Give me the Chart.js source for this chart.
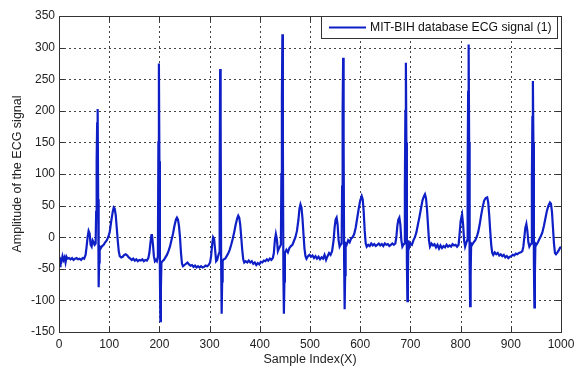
<!DOCTYPE html>
<html>
<head>
<meta charset="utf-8">
<script src="https://cdn.jsdelivr.net/npm/chart.js@4/dist/chart.umd.min.js"></script>
<style>
  html, body { margin: 0; padding: 0; background: #fff; }
  #wrap { width: 575px; height: 370px; }
</style>
</head>
<body>
<div id="wrap"><canvas id="ecgChart" width="575" height="370"></canvas></div>
<script>
// values (sample index -> amplitude)
const sampleIndex = [
  0, 2, 3, 5, 7, 9, 11, 13, 15, 17, 20, 23, 26, 29, 32, 35, 38, 41, 44, 47, 50, 53, 55, 57, 59, 61, 63, 65, 67, 69, 71, 73,
  74, 75, 76, 77, 78, 79, 80, 81, 83, 86, 89, 92, 95, 98, 101, 104, 107, 109, 111, 113, 115, 117, 119, 121, 124, 127, 130,
  133, 136, 139, 142, 145, 148, 151, 154, 157, 160, 163, 166, 169, 172, 175, 178, 180, 182, 184, 185, 187, 189, 191, 193,
  195, 197, 198, 199, 200, 201, 202, 203, 204, 206, 209, 212, 215, 218, 221, 224, 227, 230, 233, 235, 237, 239, 241, 243,
  245, 247, 250, 253, 256, 259, 262, 265, 268, 271, 274, 277, 280, 283, 286, 289, 292, 295, 298, 301, 303, 305, 307, 309,
  311, 313, 315, 317, 319, 320, 321, 322, 323, 324, 325, 326, 328, 331, 334, 337, 340, 343, 346, 349, 352, 355, 357, 359,
  361, 363, 365, 367, 369, 372, 375, 378, 381, 384, 387, 390, 393, 396, 399, 402, 405, 408, 411, 414, 417, 420, 423, 426,
  428, 430, 432, 434, 436, 438, 440, 442, 443, 444, 445, 446, 447, 448, 449, 450, 453, 456, 459, 462, 465, 468, 471, 474,
  477, 479, 481, 483, 485, 487, 489, 491, 493, 496, 499, 502, 505, 508, 511, 514, 517, 520, 523, 526, 529, 532, 535, 538,
  541, 544, 547, 549, 551, 553, 555, 557, 559, 561, 563, 564, 565, 566, 567, 568, 569, 570, 571, 573, 576, 579, 582, 585,
  588, 591, 594, 597, 600, 603, 605, 607, 609, 611, 613, 616, 619, 622, 625, 628, 631, 634, 637, 640, 643, 646, 649, 652,
  655, 658, 661, 664, 667, 670, 672, 674, 676, 678, 680, 682, 684, 686, 688, 689, 690, 691, 692, 693, 694, 695, 696, 698,
  700, 703, 706, 709, 712, 715, 718, 721, 724, 727, 729, 731, 733, 735, 737, 739, 742, 745, 748, 751, 754, 757, 760, 763,
  766, 769, 772, 775, 778, 781, 784, 787, 790, 793, 796, 798, 800, 802, 803, 805, 807, 809, 811, 813, 814, 815, 816, 817,
  818, 819, 820, 821, 823, 826, 829, 832, 835, 838, 841, 844, 847, 850, 853, 855, 857, 859, 861, 863, 865, 868, 871, 874,
  877, 880, 883, 886, 889, 892, 895, 898, 901, 904, 907, 910, 913, 916, 920, 923, 925, 927, 929, 931, 933, 935, 937, 939,
  941, 942, 943, 944, 945, 946, 947, 948, 949, 951, 954, 957, 960, 963, 966, 969, 972, 975, 978, 980, 982, 984, 986, 988,
  990, 993, 996, 998, 1000
];
const ecgAmplitude = [
  -40, -46, -35, -38, -30, -36, -32, -40, -31, -34, -33, -35, -33, -36, -34, -33, -35, -34, -36, -33, -34, -28, -15, 0, 10, 6, -12, -15, -5, -8, -12, -10,
  40, 120, 180, 203, 60, -79, -40, -15, -18, -14, -12, -8, -5, 0, 8, 25, 40, 47, 45, 35, 15, -5, -22, -30, -32, -31, -28,
  -27, -29, -32, -34, -36, -34, -37, -35, -38, -36, -37, -35, -38, -36, -37, -33, -25, -10, 3, 5, -10, -30, -38, -36,
  -38, -30, 150, 275, 120, -60, -133, -80, -40, -38, -36, -32, -28, -22, -15, -5, 5, 18, 28, 31, 28, 18, 0, -25,
  -42, -46, -44, -42, -40, -43, -45, -44, -47, -45, -48, -46, -48, -46, -48, -47, -45, -46, -44, -40, -30, -12, 0, -3,
  -20, -38, -36, -30, -25, 90, 266, 180, -40, -121, -70, -38, -35, -34, -30, -26, -20, -12, -3, 8, 20, 30, 34, 31,
  20, 0, -20, -35, -40, -38, -40, -37, -40, -38, -42, -40, -44, -41, -43, -39, -40, -37, -38, -35, -37, -34, -36, -33,
  -25, -5, 5, -3, -22, -18, -15, -12, 100, 220, 321, 150, -60, -121, -70, -25, -20, -24, -17, -14, -12, -6, 0, 10,
  28, 45, 52, 47, 30, 5, -18, -30, -34, -30, -28, -31, -29, -33, -30, -34, -31, -35, -32, -34, -28, -36, -30, -25,
  -28, -22, -5, 15, 28, 31, 20, -5, -15, -12, -10, 80, 200, 284, 150, -40, -114, -60, -10, -12, -5, -8, -2, 0,
  5, 15, 30, 45, 58, 65, 60, 40, 10, -10, -15, -12, -14, -10, -13, -11, -14, -12, -10, -13, -11, -14, -10, -12,
  -11, -14, -12, -10, -12, -10, 0, 18, 28, 31, 20, -5, -15, -12, -10, 80, 200, 276, 150, -40, -101, -60, -5, -15,
  -10, -12, -5, 0, 8, 20, 32, 45, 58, 65, 68, 62, 45, 20, -5, -15, -10, -13, -11, -16, -12, -18, -13, -17,
  -14, -16, -12, -15, -13, -15, -11, -13, -12, -15, -12, 5, 25, 33, 36, 20, -5, -15, -10, -5, 100, 230, 305, 150,
  -40, -109, -60, -10, -12, -8, -5, 0, 8, 20, 35, 48, 58, 62, 63, 55, 35, 10, -12, -25, -28, -24, -27, -25,
  -29, -27, -30, -28, -32, -30, -33, -31, -30, -28, -29, -26, -27, -25, -24, -22, -15, 0, 15, 21, 10, -8, -15, -12,
  -10, 90, 190, 247, 150, -40, -111, -60, -10, -12, -8, -3, 2, 8, 18, 30, 42, 50, 55, 53, 40, 15, -10, -25,
  -27, -24, -20, -17, -15
];
const seriesLabel = 'MIT-BIH database ECG signal (1)';
const xTicks = [0, 100, 200, 300, 400, 500, 600, 700, 800, 900, 1000];
const yTicks = [-150, -100, -50, 0, 50, 100, 150, 200, 250, 300, 350];

const lineColor = '#0f1fc6';
const fontFamily = '"Liberation Sans", Arial, sans-serif';

const points = sampleIndex.map((x, i) => ({ x: x, y: ecgAmplitude[i] }));

// dotted grid under the trace
const dottedGrid = {
  id: 'dottedGrid',
  beforeDatasetsDraw(chart) {
    const { ctx, chartArea: a, scales } = chart;
    ctx.save();
    ctx.strokeStyle = '#444';
    ctx.lineWidth = 1;
    ctx.setLineDash([2, 3]);
    ctx.beginPath();
    xTicks.forEach(v => {
      const px = Math.round(scales.x.getPixelForValue(v)) + 0.5;
      ctx.moveTo(px, a.top); ctx.lineTo(px, a.bottom);
    });
    yTicks.forEach(v => {
      const py = Math.round(scales.y.getPixelForValue(v)) + 0.5;
      ctx.moveTo(a.left, py); ctx.lineTo(a.right, py);
    });
    ctx.stroke();
    ctx.restore();
  }
};

// matlab-like frame, inward ticks and boxed legend
const matlabFrame = {
  id: 'matlabFrame',
  afterDraw(chart) {
    const { ctx, chartArea: a, scales } = chart;
    ctx.save();
    ctx.strokeStyle = '#333';
    ctx.lineWidth = 1;
    ctx.strokeRect(Math.round(a.left) + 0.5, Math.round(a.top) + 0.5,
      Math.round(a.right - a.left), Math.round(a.bottom - a.top));
    ctx.beginPath();
    xTicks.forEach(v => {
      const px = Math.round(scales.x.getPixelForValue(v)) + 0.5;
      ctx.moveTo(px, a.bottom); ctx.lineTo(px, a.bottom - 5);
      ctx.moveTo(px, a.top); ctx.lineTo(px, a.top + 5);
    });
    yTicks.forEach(v => {
      const py = Math.round(scales.y.getPixelForValue(v)) + 0.5;
      ctx.moveTo(a.left, py); ctx.lineTo(a.left + 5, py);
      ctx.moveTo(a.right, py); ctx.lineTo(a.right - 5, py);
    });
    ctx.stroke();

    // legend box
    const bx = 321.5, by = 16.5, bw = 236, bh = 22;
    ctx.fillStyle = '#fff';
    ctx.fillRect(bx, by, bw, bh);
    ctx.strokeStyle = '#333';
    ctx.strokeRect(bx, by, bw, bh);
    ctx.strokeStyle = lineColor;
    ctx.lineWidth = 2;
    ctx.beginPath();
    ctx.moveTo(329, by + bh / 2); ctx.lineTo(366, by + bh / 2);
    ctx.stroke();
    ctx.fillStyle = '#111';
    ctx.font = '12.2px ' + fontFamily;
    ctx.textBaseline = 'middle';
    ctx.textAlign = 'left';
    ctx.fillText(chart.data.datasets[0].label, 370, by + bh / 2 + 0.5);
    ctx.restore();
  }
};

new Chart(document.getElementById('ecgChart').getContext('2d'), {
  type: 'line',
  data: {
    datasets: [{
      label: seriesLabel,
      data: points,
      borderColor: lineColor,
      borderWidth: 2.2,
      pointRadius: 0,
      tension: 0,
      fill: false
    }]
  },
  options: {
    responsive: false,
    animation: false,
    layout: { padding: { left: 0, right: 14, top: 16, bottom: 0 } },
    plugins: {
      legend: { display: false },
      tooltip: { enabled: false }
    },
    scales: {
      x: {
        type: 'linear',
        min: 0,
        max: 1000,
        afterFit(scale) {
          scale.height = 38;
          scale.paddingLeft = 0;
          scale.paddingRight = 0;
        },
        afterBuildTicks(scale) { scale.ticks = xTicks.map(v => ({ value: v })); },
        grid: { display: false, drawTicks: false },
        border: { display: false },
        ticks: {
          color: '#222', padding: 5, maxRotation: 0,
          font: { family: fontFamily, size: 12 },
          callback: v => String(v)
        },
        title: {
          display: true,
          text: 'Sample Index(X)',
          color: '#222',
          padding: { top: 4, bottom: 3 },
          font: { family: fontFamily, size: 12.5 }
        }
      },
      y: {
        type: 'linear',
        min: -150,
        max: 350,
        afterFit(scale) {
          scale.width = 59;
          scale.paddingTop = 0;
          scale.paddingBottom = 0;
        },
        afterBuildTicks(scale) { scale.ticks = yTicks.map(v => ({ value: v })); },
        grid: { display: false, drawTicks: false },
        border: { display: false },
        ticks: {
          color: '#222', padding: 4,
          font: { family: fontFamily, size: 12 },
          callback: v => String(v)
        },
        title: {
          display: true,
          text: 'Amplitude of the ECG signal',
          color: '#222',
          padding: { top: 10, bottom: 0 },
          font: { family: fontFamily, size: 12.5 }
        }
      }
    }
  },
  plugins: [dottedGrid, matlabFrame]
});
</script>
</body>
</html>
